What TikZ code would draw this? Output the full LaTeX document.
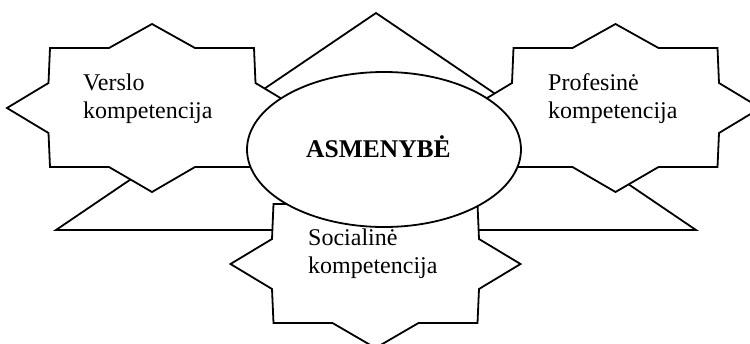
\documentclass[tikz,border=0pt]{standalone}
\usepackage{fontspec}
\setmainfont{Liberation Serif}
\usetikzlibrary{shapes.geometric}

\tikzset{
  outline/.style={draw=black, line width=1.8pt, line join=miter},
  label text/.style={inner sep=0pt, align=left, font=\fontsize{24}{27.5}\selectfont},
  % eight-pointed star, centred on the pic origin
  starburst/.pic={
    \draw[outline, fill=white]
      (0,-84) -- (43,-60) -- (102,-60) -- (103.5,-25) -- (145,0)
      -- (103.5,25) -- (102,59) -- (43,59) -- (0,84) -- (-43,59)
      -- (-102,59) -- (-103.5,25) -- (-145,0) -- (-103.5,-25)
      -- (-102,-60) -- (-43,-60) -- cycle;
  }
}

\begin{document}
\begin{tikzpicture}[x=1pt, y=-1pt]
  \useasboundingbox (0,0) rectangle (750,343);
  \clip (0,0) rectangle (750,343);

  % background triangle
  \coordinate (apex) at (376,13);
  \coordinate (baseL) at (56,230);
  \coordinate (baseR) at (696,230);
  \draw[outline] (apex) -- (baseR) -- (baseL) -- cycle;

  % the three competence stars
  \pic at (152,108) {starburst};
  \pic at (615.5,108) {starburst};
  \pic at (375.5,264) {starburst};

  % central ellipse
  \node[ellipse, outline, fill=white, minimum width=274pt, minimum height=155pt, inner sep=0pt]
    (core) at (384,149.5) {};
  \node[inner sep=0pt, anchor=base, font=\fontsize{25.5}{28}\selectfont\bfseries]
    (coretext) at (378.5,157) {ASMENYBĖ};

  % labels (anchored at the baseline of the second line)
  \node[label text, anchor=base west] (verslo) at (83,118) {Verslo\\kompetencija};
  \node[label text, anchor=base west] (profesine) at (548,118) {Profesinė\\kompetencija};
  \node[label text, anchor=base west] (socialine) at (308,273) {Socialinė\\kompetencija};
\end{tikzpicture}
\end{document}
